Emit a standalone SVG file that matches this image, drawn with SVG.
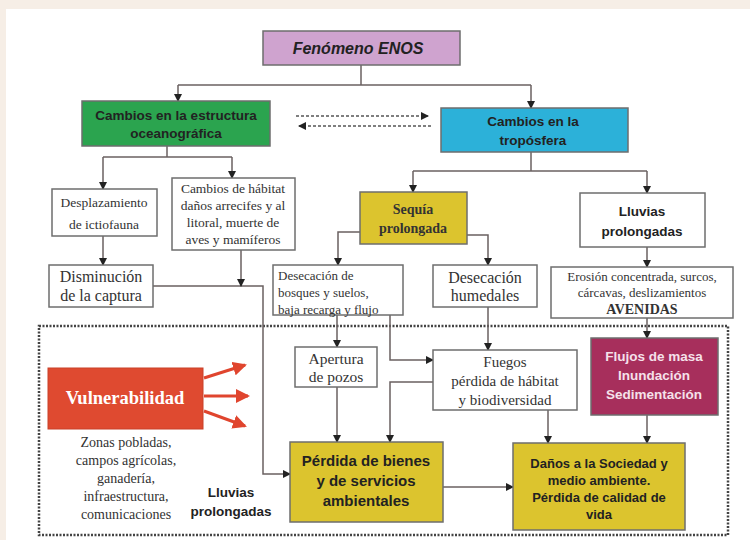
<svg xmlns="http://www.w3.org/2000/svg" width="750" height="540" viewBox="0 0 750 540">
  <style>
    .box { stroke: #6e6e6e; stroke-width: 1.5; }
    .plain { fill: #ffffff; }
    .sans { font-family: "Liberation Sans", Arial, sans-serif; font-weight: bold; fill: #222; text-anchor: middle; }
    .serif { font-family: "Liberation Serif", "Times New Roman", serif; fill: #333; text-anchor: middle; }
    .left { text-anchor: start; }
    .light { fill: #f5e1ea; }
    .white { fill: #ffffff; }
    .link { fill: none; stroke: #6a6060; stroke-width: 1.5; }
    .dash { fill: none; stroke: #555; stroke-width: 1.3; stroke-dasharray: 3 2; }
    .red { fill: none; stroke: #e0452e; stroke-width: 3; }
  </style>
  <defs>
    <marker id="ah" markerWidth="8" markerHeight="8" refX="7" refY="4" orient="auto" markerUnits="userSpaceOnUse">
      <path d="M0,0 L8,4 L0,8 Z" fill="#222"/>
    </marker>
    <marker id="ahr" markerWidth="14" markerHeight="14" refX="12" refY="7" orient="auto" markerUnits="userSpaceOnUse">
      <path d="M0,0 L14,7 L0,14 Z" fill="#e0452e"/>
    </marker>
  </defs>

  <!-- page frame -->
  <rect x="0" y="0" width="750" height="540" fill="#ffffff"/>
  <rect x="0" y="0" width="750" height="9" fill="#f6eee6"/>
  <rect x="0" y="0" width="6" height="540" fill="#f6eee6"/>

  <!-- dotted area enclosing impacts -->
  <rect x="39" y="326" width="689" height="209" fill="none" stroke="#444" stroke-width="2.5" stroke-dasharray="2 1.5"/>

  <!-- connectors -->
  <g id="connectors">
    <polyline class="link" points="361,65 361,85"/>
    <polyline class="link" points="178,85 531,85"/>
    <polyline class="link" points="178,85 178,101" marker-end="url(#ah)"/>
    <polyline class="link" points="531,85 531,108" marker-end="url(#ah)"/>

    <polyline class="dash" points="296,116 428,116" marker-end="url(#ah)"/>
    <polyline class="dash" points="431,126 299,126" marker-end="url(#ah)"/>

    <polyline class="link" points="167,146 167,157"/>
    <polyline class="link" points="103,157 232,157"/>
    <polyline class="link" points="103,157 103,189" marker-end="url(#ah)"/>
    <polyline class="link" points="232,157 232,178" marker-end="url(#ah)"/>
    <polyline class="link" points="103,236 103,265" marker-end="url(#ah)"/>
    <polyline class="link" points="153,286 263,286 263,474 290,474" marker-end="url(#ah)"/>
    <polyline class="link" points="241,250 241,286" marker-end="url(#ah)"/>

    <polyline class="link" points="531,152 531,171"/>
    <polyline class="link" points="413,171 647,171"/>
    <polyline class="link" points="413,171 413,192" marker-end="url(#ah)"/>
    <polyline class="link" points="647,171 647,193" marker-end="url(#ah)"/>
    <polyline class="link" points="360,232 338,232 338,265" marker-end="url(#ah)"/>
    <polyline class="link" points="467,235 488,235 488,265" marker-end="url(#ah)"/>
    <polyline class="link" points="647,247 647,267" marker-end="url(#ah)"/>

    <polyline class="link" points="337,315 337,347" marker-end="url(#ah)"/>
    <polyline class="link" points="390,315 390,360 433,360" marker-end="url(#ah)"/>
    <polyline class="link" points="488,307 488,350" marker-end="url(#ah)"/>
    <polyline class="link" points="647,318 647,338" marker-end="url(#ah)"/>
    <polyline class="link" points="337,387 337,442" marker-end="url(#ah)"/>
    <polyline class="link" points="433,382 390,382 390,442" marker-end="url(#ah)"/>
    <polyline class="link" points="548,410 548,443" marker-end="url(#ah)"/>
    <polyline class="link" points="647,415 647,443" marker-end="url(#ah)"/>
    <polyline class="link" points="443,487 513,487" marker-end="url(#ah)"/>

    <line class="red" x1="204" y1="378" x2="245" y2="365" marker-end="url(#ahr)"/>
    <line class="red" x1="204" y1="396" x2="248" y2="396" marker-end="url(#ahr)"/>
    <line class="red" x1="204" y1="411" x2="245" y2="426" marker-end="url(#ahr)"/>
  </g>

  <g id="enos">
    <rect class="box" x="263" y="31" width="197" height="34" fill="#cfa3cf"/>
    <text class="sans" x="358" y="54" font-size="16" font-style="italic">Fenómeno ENOS</text>
  </g>

  <g id="oceanografica">
    <rect class="box" x="82" y="101" width="188" height="45" fill="#2ba44f"/>
    <text class="sans" x="176" y="120" font-size="13.5">Cambios en la estructura</text>
    <text class="sans" x="176" y="138" font-size="13.5">oceanográfica</text>
  </g>

  <g id="troposfera">
    <rect class="box" x="441" y="108" width="187" height="44" fill="#2cb1d9"/>
    <text class="sans" x="533" y="126" font-size="13.5">Cambios en la</text>
    <text class="sans" x="533" y="145" font-size="13.5">tropósfera</text>
  </g>

  <g id="desplazamiento">
    <rect class="box plain" x="52" y="189" width="105" height="47"/>
    <text class="serif" x="104" y="207" font-size="13.5">Desplazamiento</text>
    <text class="serif" x="104" y="229" font-size="13.5">de ictiofauna</text>
  </g>

  <g id="habitat">
    <rect class="box plain" x="172" y="178" width="123" height="72"/>
    <text class="serif" x="233" y="193" font-size="13.5">Cambios de hábitat</text>
    <text class="serif" x="233" y="210" font-size="13.5">daños arrecifes y al</text>
    <text class="serif" x="233" y="227" font-size="13.5">litoral, muerte de</text>
    <text class="serif" x="233" y="244" font-size="13.5">aves y mamíferos</text>
  </g>

  <g id="captura">
    <rect class="box plain" x="49" y="265" width="104" height="42"/>
    <text class="serif" x="101" y="282" font-size="16">Disminución</text>
    <text class="serif" x="101" y="301" font-size="16">de la captura</text>
  </g>

  <g id="sequia">
    <rect class="box" x="360" y="192" width="107" height="52" fill="#dcc42e"/>
    <text class="serif" x="413" y="214" font-size="14" font-weight="bold">Sequía</text>
    <text class="serif" x="413" y="233" font-size="14" font-weight="bold">prolongada</text>
  </g>

  <g id="lluvias">
    <rect class="box plain" x="580" y="193" width="125" height="54"/>
    <text class="sans" x="642" y="216" font-size="13.5">Lluvias</text>
    <text class="sans" x="642" y="236" font-size="13.5">prolongadas</text>
  </g>

  <g id="bosques">
    <rect class="box plain" x="273" y="265" width="130" height="50"/>
    <text class="serif left" x="278" y="280" font-size="13">Desecación de</text>
    <text class="serif left" x="278" y="297" font-size="13">bosques y suelos,</text>
    <text class="serif left" x="278" y="314" font-size="13">baja recarga y flujo</text>
  </g>

  <g id="humedales">
    <rect class="box plain" x="433" y="265" width="104" height="42"/>
    <text class="serif" x="485" y="283" font-size="16">Desecación</text>
    <text class="serif" x="485" y="301" font-size="16">humedales</text>
  </g>

  <g id="erosion">
    <rect class="box plain" x="551" y="267" width="182" height="51"/>
    <text class="serif" x="642" y="281" font-size="13">Erosión concentrada, surcos,</text>
    <text class="serif" x="642" y="297" font-size="13">cárcavas, deslizamientos</text>
    <text class="serif" x="642" y="314" font-size="14" font-weight="bold">AVENIDAS</text>
  </g>

  <g id="pozos">
    <rect class="box plain" x="295" y="347" width="82" height="40"/>
    <text class="serif" x="336" y="364" font-size="15.5">Apertura</text>
    <text class="serif" x="336" y="382" font-size="15.5">de pozos</text>
  </g>

  <g id="fuegos">
    <rect class="box plain" x="433" y="350" width="144" height="60"/>
    <text class="serif" x="505" y="367" font-size="15">Fuegos</text>
    <text class="serif" x="505" y="386" font-size="15">pérdida de hábitat</text>
    <text class="serif" x="505" y="405" font-size="15">y biodiversidad</text>
  </g>

  <g id="flujos">
    <rect class="box" x="591" y="338" width="127" height="77" fill="#a72f5c"/>
    <text class="sans light" x="654" y="361" font-size="13.5">Flujos de masa</text>
    <text class="sans light" x="654" y="380" font-size="13.5">Inundación</text>
    <text class="sans light" x="654" y="399" font-size="13.5">Sedimentación</text>
  </g>

  <g id="vulnerabilidad">
    <rect x="48" y="368" width="155" height="61" fill="#df4a30" stroke="#c94028" stroke-width="1"/>
    <text class="serif white" x="125" y="404" font-size="18.5" font-weight="bold">Vulnerabilidad</text>
  </g>

  <g id="zonas">
    <text class="serif" x="126" y="447" font-size="14">Zonas pobladas,</text>
    <text class="serif" x="126" y="465" font-size="14">campos agrícolas,</text>
    <text class="serif" x="126" y="483" font-size="14">ganadería,</text>
    <text class="serif" x="126" y="501" font-size="14">infraestructura,</text>
    <text class="serif" x="126" y="519" font-size="14">comunicaciones</text>
  </g>

  <g id="lluvias-nota">
    <text class="sans" x="231" y="497" font-size="13.5">Lluvias</text>
    <text class="sans" x="231" y="516" font-size="13.5">prolongadas</text>
  </g>

  <g id="perdida">
    <rect class="box" x="290" y="442" width="153" height="80" fill="#dcc42e"/>
    <text class="sans" x="366" y="466" font-size="15">Pérdida de bienes</text>
    <text class="sans" x="366" y="486" font-size="15">y de servicios</text>
    <text class="sans" x="366" y="506" font-size="15">ambientales</text>
  </g>

  <g id="danos">
    <rect class="box" x="513" y="443" width="172" height="87" fill="#dcc42e"/>
    <text class="sans" x="599" y="468" font-size="13">Daños a la Sociedad y</text>
    <text class="sans" x="599" y="485" font-size="13">medio ambiente.</text>
    <text class="sans" x="599" y="502" font-size="13">Pérdida de calidad de</text>
    <text class="sans" x="599" y="519" font-size="13">vida</text>
  </g>
</svg>
